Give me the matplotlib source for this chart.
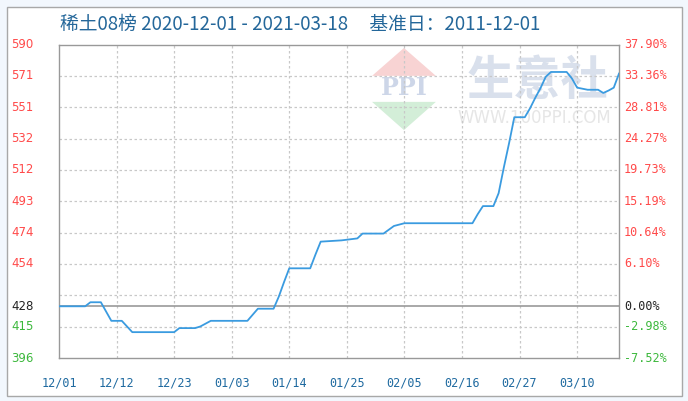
import numpy as np
import matplotlib.pyplot as plt
from matplotlib.patches import Rectangle, Polygon

plt.rcParams['font.family'] = ['Noto Sans CJK SC', 'DejaVu Sans']

# data: days after 2020-12-01 and price index
start = np.datetime64('2020-12-01')
day = [0, 5, 6, 8, 10, 12, 14, 22, 23, 26, 27, 29, 36, 38, 41, 42, 43, 44, 48, 49, 50,
       54, 57, 58, 62, 64, 66, 79, 80, 81, 83, 84, 85, 86, 87, 89, 90, 91, 92, 93, 94,
       97, 98, 99, 101, 103, 104, 105, 106, 107]
price = [428, 428, 430.5, 430.5, 419, 419, 412, 412, 414.5, 414.5, 415.5, 419, 419, 426.5,
         426.5, 434, 443, 451.5, 451.5, 460, 468, 468.8, 470, 473, 473, 477.7, 479.4, 479.4,
         485, 490, 490, 498, 514, 529, 545, 545, 550.5, 557, 563, 570, 573, 573, 569, 563.3,
         562, 562, 560, 561.5, 563.3, 572]

base = 428
ymin, ymax = 396, 590
left_labels = ['396', '415', '', '454', '474', '493', '512', '532', '551', '571', '590']
right_labels = ['-7.52%', '-2.98%', '', '6.10%', '10.64%', '15.19%', '19.73%', '24.27%',
                '28.81%', '33.36%', '37.90%']
xtick_days = [0, 11, 22, 33, 44, 55, 66, 77, 88, 99]
title = '稀土08榜 2020-12-01 - 2021-03-18     基准日：2011-12-01'

red = '#ff4a4a'
green = '#3cb83c'
blue_txt = '#1f6aa0'

fig = plt.figure(figsize=(6.88, 4.01), dpi=100, facecolor='#f2f7fd')
fig.patches.append(Rectangle((7 / 688, 1 - 396 / 401), 675 / 688, 389 / 401,
                             transform=fig.transFigure, facecolor='white',
                             edgecolor='#a8a8a8', lw=1, zorder=-5))

ax = fig.add_axes([59 / 688, 1 - 358 / 401, 560 / 688, 313.5 / 401])
ax.set_facecolor('white')
ax.set_xlim(0, 107)
ax.set_ylim(ymin, ymax)

# watermark
ax.text(0.855, 0.885, '生意社', transform=ax.transAxes, fontsize=34, color='#d9e0ec',
        ha='center', va='center', weight='bold', zorder=0)
ax.text(0.848, 0.765, 'WWW.100PPI.COM', transform=ax.transAxes, fontsize=12,
        family='DejaVu Sans', color='#e6e6e6', ha='center', va='center', zorder=0)
ax.add_patch(Polygon([(0.559, 0.9), (0.673, 0.9), (0.616, 0.989)], closed=True,
                     transform=ax.transAxes, facecolor='#f8d3d3', edgecolor='none', zorder=0))
ax.add_patch(Polygon([(0.559, 0.817), (0.673, 0.817), (0.616, 0.727)], closed=True,
                     transform=ax.transAxes, facecolor='#d3eed8', edgecolor='none', zorder=0))
ax.text(0.616, 0.86, 'PPI', transform=ax.transAxes, fontsize=17, family='DejaVu Serif',
        color='#cdd6e8', ha='center', va='center', weight='bold', zorder=0)

grid = np.linspace(ymin, ymax, 11)
for g in grid[1:-1]:
    ax.axhline(g, color='#c8c8c8', lw=0.9, ls=(0, (2, 2)), zorder=1)
for d in xtick_days[1:]:
    ax.axvline(d, color='#c8c8c8', lw=0.9, ls=(0, (2, 2)), zorder=1)
ax.axhline(base, color='#999999', lw=1.2, zorder=2)

dates = start + np.array(day).astype('timedelta64[D]')
x = (dates - start).astype(int)
ax.plot(x, price, color='#3a9be0', lw=1.3, zorder=3)

ax.set_xticks(xtick_days)
ax.set_xticklabels([str(start + np.timedelta64(d, 'D'))[5:].replace('-', '/') for d in xtick_days],
                   family='DejaVu Sans Mono', fontsize=8.5, color=blue_txt)
ax.tick_params(axis='x', length=0, pad=13)
ax.set_yticks([])
for s in ax.spines.values():
    s.set_color('#999999')
    s.set_linewidth(1)

# y labels on both sides
ltrans = ax.get_yaxis_transform()
for g, ll, rl in zip(grid, left_labels, right_labels):
    if not ll:
        continue
    c = red if g > base else green
    ax.text(-0.085, g, ll, transform=ltrans, fontsize=8.5, family='DejaVu Sans',
            color=c, ha='left', va='center')
    ax.text(1.009, g, rl, transform=ltrans, fontsize=8.5, family='DejaVu Sans Mono',
            color=c, ha='left', va='center')
ax.text(-0.085, base, str(base), transform=ltrans, fontsize=8.5, family='DejaVu Sans',
        color='#222222', ha='left', va='center')
ax.text(1.009, base, '0.00%', transform=ltrans, fontsize=8.5, family='DejaVu Sans Mono',
        color='#222222', ha='left', va='center')

fig.text(60 / 688, 1 - 24 / 401, title, fontsize=13.5, color='#24679a', ha='left', va='center')

fig.savefig('out.png', dpi=100, facecolor=fig.get_facecolor())
